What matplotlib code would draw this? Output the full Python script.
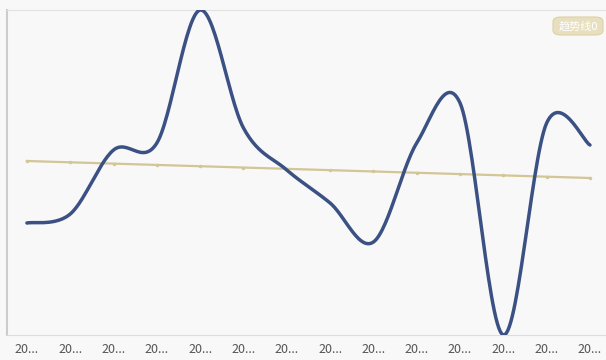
import numpy as np
import matplotlib.pyplot as plt
from matplotlib.patches import FancyBboxPatch

plt.rcParams['font.family'] = ['Noto Sans CJK SC', 'DejaVu Sans']

# dados (unidades arbitrarias)
labels = ["20..."] * 14
values = [112, 121, 185, 192, 325, 207, 165, 132, 93, 192, 232, 0, 212, 190]
trend_ends = [174, 157]   # linha de tendencia: inicio e fim
trend_name = "趋势线0"


def smooth_curve(xs, ys, n=30):
    # catmull-rom simples, parecido com o smooth do echarts
    xs = np.asarray(xs, float)
    ys = np.asarray(ys, float)
    px = np.concatenate([[xs[0]], xs, [xs[-1]]])
    py = np.concatenate([[ys[0]], ys, [ys[-1]]])
    out_x, out_y = [], []
    for i in range(1, len(px) - 2):
        t = np.linspace(0, 1, n)
        m0x = (px[i + 1] - px[i - 1]) / 2
        m0y = (py[i + 1] - py[i - 1]) / 2
        m1x = (px[i + 2] - px[i]) / 2
        m1y = (py[i + 2] - py[i]) / 2
        h00 = 2 * t**3 - 3 * t**2 + 1
        h10 = t**3 - 2 * t**2 + t
        h01 = -2 * t**3 + 3 * t**2
        h11 = t**3 - t**2
        out_x.append(h00 * px[i] + h10 * m0x + h01 * px[i + 1] + h11 * m1x)
        out_y.append(h00 * py[i] + h10 * m0y + h01 * py[i + 1] + h11 * m1y)
    return np.concatenate(out_x), np.concatenate(out_y)


x = np.arange(len(values))
fig = plt.figure(figsize=(6.06, 3.6), dpi=100, facecolor="#f8f8f8")
ax = fig.add_axes([7 / 606, 25 / 360, 599 / 606, 325 / 360])
ax.set_facecolor("#f8f8f8")

sx, sy = smooth_curve(x, values)
ax.plot(sx, sy, color="#3b5184", lw=2.5, solid_capstyle="round", zorder=3)

# linha de tendencia
trend = np.interp(x, [x[0], x[-1]], trend_ends)
ax.plot(x, trend, color="#d2c596", lw=1.6, marker="o", ms=1.5, zorder=2)

ax.set_xlim(-0.46, 13.37)
ax.set_ylim(0, 325)
ax.set_xticks(x)
ax.set_xticklabels(labels, fontsize=9, color="#555555")
ax.tick_params(axis="x", length=0, pad=6)
ax.set_yticks([])
ax.spines["right"].set_visible(False)
ax.spines["top"].set_color("#e2e2e2")
ax.spines["left"].set_color("#cccccc")
ax.spines["bottom"].set_color("#dddddd")
ax.spines["left"].set_linewidth(1.5)

# etiqueta no canto
badge = FancyBboxPatch((553 / 606, 1 - 35 / 360), 50 / 606, 18 / 360,
                       boxstyle="round,pad=0,rounding_size=0.013",
                       transform=fig.transFigure, facecolor="#e8dfbf",
                       edgecolor="#ddd2a8", lw=0.8)
fig.patches.append(badge)
fig.text(578 / 606, 1 - 26 / 360, trend_name, fontsize=8, color="#ffffff",
         ha="center", va="center")

fig.savefig("out.png", dpi=100, facecolor=fig.get_facecolor())
